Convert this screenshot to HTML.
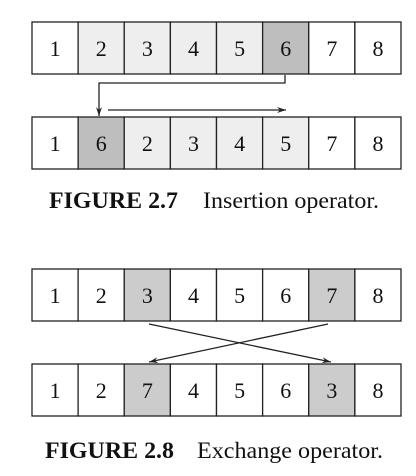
<!DOCTYPE html>
<html><head><meta charset="utf-8"><style>
html,body{margin:0;padding:0;background:#fff;width:416px;height:476px;overflow:hidden}
svg text{font-family:"Liberation Serif",serif;fill:#111}
</style></head><body>
<svg width="416" height="476">
<defs><marker id="ah" markerWidth="10" markerHeight="8" refX="9" refY="4" orient="auto" markerUnits="userSpaceOnUse"><path d="M0,1 L9,4 L0,7 L3,4 Z" fill="#222"/></marker></defs>
<g id="rows"></g>
<g stroke="#222" stroke-width="1.3" fill="none">
<polyline points="285,75 285,83 99,83 99,116" marker-end="url(#ah)"/>
<line x1="108" y1="110" x2="286" y2="110" marker-end="url(#ah)"/>
</g>
<g stroke="#222" stroke-width="1.3" fill="none">
<line x1="149" y1="324" x2="331" y2="362" marker-end="url(#ah)"/>
<line x1="328" y1="324" x2="149" y2="362" marker-end="url(#ah)"/>
</g>
<text x="49" y="208" font-size="23" font-weight="bold" textLength="129" lengthAdjust="spacingAndGlyphs">FIGURE 2.7</text>
<text x="203" y="208" font-size="23" textLength="176" lengthAdjust="spacingAndGlyphs">Insertion operator.</text>
<text x="45" y="458" font-size="23" font-weight="bold" textLength="129" lengthAdjust="spacingAndGlyphs">FIGURE 2.8</text>
<text x="197" y="458" font-size="23" textLength="186" lengthAdjust="spacingAndGlyphs">Exchange operator.</text>
</svg>
<script>
const rowValues=[[1,2,3,4,5,6,7,8],[1,6,2,3,4,5,7,8],[1,2,3,4,5,6,7,8],[1,2,7,4,5,6,3,8]];
const rowShades=[["w","l","l","l","l","d","w","w"],["w","d","l","l","l","l","w","w"],["w","w","g","w","w","w","g","w"],["w","w","g","w","w","w","g","w"]];
const rowTops=[22,117,269,364];
const colors={w:"#fff",l:"#eeeeee",d:"#bebebe",g:"#cccccc"};
const g=document.getElementById('rows');
const NS="http://www.w3.org/2000/svg";
const x0=32,cw=(401-32)/8,h=52;
rowValues.forEach((vals,r)=>{
  vals.forEach((v,i)=>{
    const rect=document.createElementNS(NS,'rect');
    rect.setAttribute('x',x0+i*cw);rect.setAttribute('y',rowTops[r]);
    rect.setAttribute('width',cw);rect.setAttribute('height',h);
    rect.setAttribute('fill',colors[rowShades[r][i]]);rect.setAttribute('stroke','#222');rect.setAttribute('stroke-width','1.3');
    
    
    g.appendChild(rect);
    const t=document.createElementNS(NS,'text');
    t.setAttribute('x',x0+i*cw+cw/2);t.setAttribute('y',rowTops[r]+34);
    t.setAttribute('text-anchor','middle');t.setAttribute('font-size','22');
    t.textContent=v;
    
    
    g.appendChild(t);
  });
});
</script>
</body></html>
